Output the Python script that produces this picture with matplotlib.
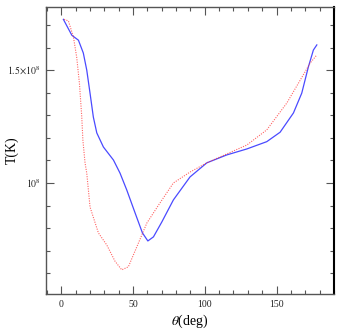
import numpy as np
import matplotlib
matplotlib.use("Agg")
import matplotlib.pyplot as plt
from matplotlib.ticker import FixedLocator, FixedFormatter

# data (T in units of 1e8 K)
theta_blue = [1.4, 7.3, 11.9, 15.3, 17.7, 20.0, 22.3, 24.7, 29.3, 36.3, 40.9, 45.6,
              51.4, 56.5, 60.3, 64.2, 70.0, 78.1, 89.7, 101.4, 115.3, 129.3, 143.2,
              152.5, 161.8, 167.6, 172.2, 175.7, 178.1]
T_blue = [1.80, 1.70, 1.67, 1.595, 1.50, 1.38, 1.267, 1.197, 1.138, 1.086, 1.036, 0.975,
          0.898, 0.836, 0.812, 0.824, 0.869, 0.941, 1.022, 1.075, 1.106, 1.13, 1.16,
          1.20, 1.286, 1.381, 1.517, 1.612, 1.642]

theta_red = [1.9, 4.9, 8.4, 10.7, 12.6, 14.2, 15.0, 16.5, 17.7, 20.0, 25.8, 31.7, 37.4,
             42.1, 46.7, 52.6, 59.6, 67.8, 78.1, 89.7, 101.4, 115.3, 129.3, 143.2,
             157.2, 166.6, 173.5, 178.1]
T_red = [1.80, 1.79, 1.69, 1.57, 1.43, 1.27, 1.167, 1.075, 1.036, 0.917, 0.836, 0.80, 0.755,
         0.732, 0.74, 0.795, 0.866, 0.924, 1.0, 1.04, 1.075, 1.11, 1.146, 1.21,
         1.333, 1.448, 1.539, 1.584]

xticks = [0, 50, 100, 150]
xticklabels = ["0", "50", "100", "150"]
yticks = [1.0e8, 1.5e8]
yticklabels = [r"$10^8$", r"$1.5\!\times\!10^8$"]

plt.rcParams['font.family'] = ['Liberation Serif', 'DejaVu Serif']
plt.rcParams['mathtext.fontset'] = 'stix'

fig = plt.figure(figsize=(3.46, 3.32), dpi=100)
ax = fig.add_axes([0.133, 0.1145, 0.832, 0.8645])

ax.plot(theta_blue, np.array(T_blue) * 1e8, color='#4a4aff', lw=0.9)
ax.plot(theta_red, np.array(T_red) * 1e8, color='#ff3030', lw=0.8, ls=(0, (1, 1.2)), alpha=0.75)

ax.set_yscale('log')
ax.set_xlim(-10.7, 190)
ymin = 10 ** (8 - 111 / 641)
ymax = 10 ** (8 + 176 / 641)
ax.set_ylim(ymin, ymax)

ax.xaxis.set_major_locator(FixedLocator(xticks))
ax.xaxis.set_major_formatter(FixedFormatter(xticklabels))
ax.xaxis.set_minor_locator(FixedLocator(np.arange(-10, 191, 10)))

step = np.log10(1.5) / 5
minor_y = [10 ** (8 + k * step) for k in range(-5, 9) if k not in (0, 5)]
ax.yaxis.set_major_locator(FixedLocator(yticks))
ax.yaxis.set_major_formatter(FixedFormatter(yticklabels))
ax.yaxis.set_minor_locator(FixedLocator(minor_y))
ax.yaxis.set_minor_formatter(FixedFormatter([""] * len(minor_y)))

ax.tick_params(which='both', direction='in', top=True, right=True, width=0.8, color='#555555')
ax.tick_params(which='major', length=6, labelsize=7, pad=4, labelcolor='#222222')
ax.tick_params(which='minor', length=3)

for s in ['left', 'bottom', 'top']:
    ax.spines[s].set_color('#555555')
    ax.spines[s].set_linewidth(1.0)
ax.spines['right'].set_color('black')
ax.spines['right'].set_linewidth(1.5)

ax.set_xlabel(r"$\theta$(deg)", fontsize=10, labelpad=3)
ax.set_ylabel("T(K)", fontsize=10)
ax.yaxis.set_label_coords(-0.095, 0.5)

fig.savefig("out.png", dpi=100)
